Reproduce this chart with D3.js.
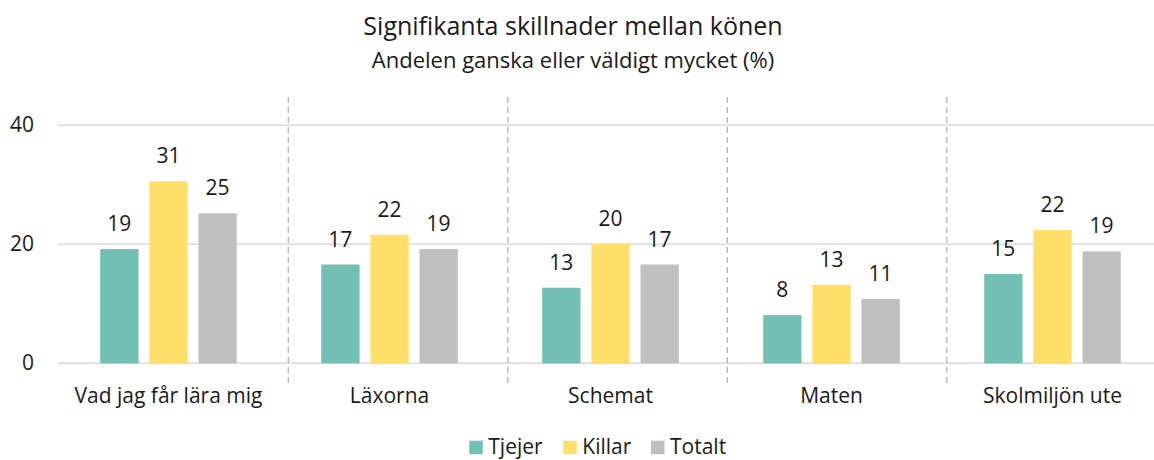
<!DOCTYPE html>
<html>
<meta charset="utf-8">
<style>
  body { margin: 0; padding: 0; background: #fff; font-family: "Open Sans", sans-serif; }
  text { font-family: "Open Sans", sans-serif; fill: #1a1a1a; }
  .title { font-size: 25px; }
  .subtitle { font-size: 22px; }
  .tick-label, .cat-label, .val-label, .legend-label { font-size: 21px; }
</style>
<body>
<div id="chart"></div>
<script src="https://d3js.org/d3.v7.min.js"></script>
<script>
// data
var categories = ["Vad jag får lära mig", "Läxorna", "Schemat", "Maten", "Skolmiljön ute"];
var seriesNames = ["Tjejer", "Killar", "Totalt"];
var tjejer = [19.2, 16.6, 12.7, 8.1, 15.0];
var killar = [30.6, 21.6, 20.1, 13.2, 22.4];
var totalt = [25.2, 19.2, 16.6, 10.8, 18.8];
var yTicks = [0, 20, 40];
var colors = ["#72c0b4", "#ffdf6a", "#bfbfbf"];

var seriesValues = [tjejer, killar, totalt];

var W = 1154, H = 460;
var svg = d3.select("#chart").append("svg")
    .attr("width", W).attr("height", H);

// scales
var y = d3.scaleLinear().domain([0, 40]).range([363.3, 125.3]);

var x0 = d3.scaleBand().domain(categories)
    .range([58, 1163]).paddingInner(0.382).paddingOuter(0.191);

// separators sit on a slightly different grid in the original
var xSep = d3.scaleBand().domain(categories).range([68.8, 1166.3]);

var x1 = d3.scaleBand().domain(seriesNames)
    .range([0, x0.bandwidth()]).paddingInner(0.22);

// title
svg.append("text").attr("class", "title")
    .attr("x", 573).attr("y", 35).attr("text-anchor", "middle")
    .text("Signifikanta skillnader mellan könen");
svg.append("text").attr("class", "subtitle")
    .attr("x", 573).attr("y", 68).attr("text-anchor", "middle")
    .text("Andelen ganska eller väldigt mycket (%)");

// gridlines
svg.append("g").selectAll("line")
  .data(yTicks).enter().append("line")
    .attr("x1", 58).attr("x2", W)
    .attr("y1", function(d) { return y(d); })
    .attr("y2", function(d) { return y(d); })
    .attr("stroke", "#d9d9d9").attr("stroke-width", 1.5);

svg.append("g").selectAll("text")
  .data(yTicks).enter().append("text")
    .attr("class", "tick-label")
    .attr("x", 34).attr("y", function(d) { return y(d) + 7; })
    .attr("text-anchor", "end")
    .text(function(d) { return d; });

// dashed separators
svg.append("g").selectAll("line")
  .data(categories.slice(1)).enter().append("line")
    .attr("x1", function(d) { return xSep(d); })
    .attr("x2", function(d) { return xSep(d); })
    .attr("y1", 97).attr("y2", 386)
    .attr("stroke", "#b3b3b3").attr("stroke-width", 1.3)
    .attr("stroke-dasharray", "6,4");

// bars
var rows = [];
categories.forEach(function(c, i) {
  seriesNames.forEach(function(s, j) {
    rows.push({cat: c, series: s, idx: j, value: seriesValues[j][i]});
  });
});

var groups = svg.append("g");
groups.selectAll("rect")
  .data(rows).enter().append("rect")
    .attr("x", function(d) { return x0(d.cat) + x1(d.series); })
    .attr("y", function(d) { return y(d.value); })
    .attr("width", x1.bandwidth())
    .attr("height", function(d) { return y(0) - y(d.value); })
    .attr("fill", function(d) { return colors[d.idx]; });

groups.selectAll("text")
  .data(rows).enter().append("text")
    .attr("class", "val-label")
    .attr("x", function(d) { return x0(d.cat) + x1(d.series) + x1.bandwidth() / 2; })
    .attr("y", function(d) { return y(d.value) - 18; })
    .attr("text-anchor", "middle")
    .text(function(d) { return Math.round(d.value); });

// category labels
svg.append("g").selectAll("text")
  .data(categories).enter().append("text")
    .attr("class", "cat-label")
    .attr("x", function(d) { return x0(d) + x0.bandwidth() / 2; })
    .attr("y", 403)
    .attr("text-anchor", "middle")
    .text(function(d) { return d; });

// legend
var legendX = [469.3, 563.3, 651];
var legend = svg.append("g").selectAll("g")
  .data(seriesNames).enter().append("g")
    .attr("transform", function(d, i) { return "translate(" + legendX[i] + ",440.7)"; });
legend.append("rect")
    .attr("width", 13.5).attr("height", 13.5)
    .attr("fill", function(d, i) { return colors[i]; });
legend.append("text")
    .attr("class", "legend-label")
    .attr("x", 19).attr("y", 13.5)
    .text(function(d) { return d; });
</script>
</body>
</html>
